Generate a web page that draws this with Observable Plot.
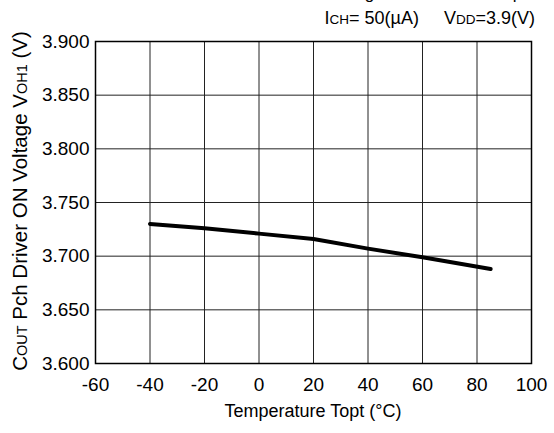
<!DOCTYPE html>
<html>
<head>
<meta charset="utf-8">
<script src="https://cdn.jsdelivr.net/npm/d3@7"></script>
<script src="https://cdn.jsdelivr.net/npm/@observablehq/plot@0.6"></script>
<style>
  html, body { margin: 0; padding: 0; background: #fff; }
  #wrap { width: 554px; font-family: "Liberation Sans", Arial, Helvetica, sans-serif; }
  #header { display: block; }
</style>
</head>
<body>
<div id="wrap">
  <svg id="header" width="554" height="32"></svg>
  <div id="chart"></div>
</div>
<script>
// Data
const temps = [-40, -20, 0, 20, 40, 60, 85];
const voh = [3.730, 3.726, 3.721, 3.716, 3.707, 3.699, 3.688];
const xTicks = [-60, -40, -20, 0, 20, 40, 60, 80, 100];
const yTicks = [3.600, 3.650, 3.700, 3.750, 3.800, 3.850, 3.900];
const titleText = "COUT Pch Driver ON Voltage vs. Ambient Temperature";

const data = temps.map((t, i) => ({t, v: voh[i]}));
const FONT = "'Liberation Sans', Arial, Helvetica, sans-serif";

const plot = Plot.plot({
  width: 554,
  height: 401,
  marginTop: 9,
  marginLeft: 95,
  marginRight: 23,
  marginBottom: 70,
  style: {fontFamily: FONT, fontSize: "19px", color: "#000", background: "#fff"},
  x: {domain: [-60, 100], label: null},
  y: {domain: [3.6, 3.9], label: null},
  marks: [
    Plot.gridX(xTicks, {stroke: "#222", strokeOpacity: 1, strokeWidth: 1}),
    Plot.gridY(yTicks, {stroke: "#222", strokeOpacity: 1, strokeWidth: 1}),
    Plot.frame({stroke: "#000", strokeWidth: 1.5}),
    Plot.axisX({ticks: xTicks, tickSize: 0, tickPadding: 14, tickFormat: d => String(d), fontSize: 19, label: null}),
    Plot.axisY({ticks: yTicks, tickSize: 0, tickPadding: 6, tickFormat: d => d.toFixed(3), fontSize: 19, label: null}),
    Plot.line(data, {x: "t", y: "v", stroke: "#000", strokeWidth: 4})
  ]
});
document.getElementById("chart").appendChild(plot);

const svg = d3.select(plot);
// y-axis label (rotated, with small-caps subscripts)
const yl = svg.append("text")
  .attr("transform", `translate(27,${(9 + 331) / 2 - 1}) rotate(-90)`)
  .attr("text-anchor", "middle")
  .style("font-family", FONT)
  .style("font-size", "20.5px")
  .attr("fill", "#000");
yl.append("tspan").text("C");
yl.append("tspan").style("font-size", "14.5px").text("OUT");
yl.append("tspan").text(" Pch Driver ON Voltage V");
yl.append("tspan").style("font-size", "14.5px").text("OH1");
yl.append("tspan").text(" (V)");

// x-axis label
svg.append("text")
  .attr("x", 313)
  .attr("y", 385)
  .attr("text-anchor", "middle")
  .style("font-family", FONT)
  .style("font-size", "18px")
  .attr("fill", "#000")
  .text("Temperature Topt (°C)");

// header: clipped title and conditions subtitle
const hdr = d3.select("#header");
hdr.append("text")
  .attr("x", 160)
  .attr("y", -1)
  .style("font-family", FONT)
  .style("font-size", "17px")
  .attr("fill", "#000")
  .text(titleText);
const sub = hdr.append("text")
  .attr("x", 535)
  .attr("y", 24)
  .attr("text-anchor", "end")
  .style("font-family", FONT)
  .style("font-size", "18px")
  .attr("fill", "#000");
sub.append("tspan").text("I");
sub.append("tspan").style("font-size", "13.5px").text("CH");
sub.append("tspan").text("= 50(\u00b5A)\u00a0\u00a0\u00a0\u00a0\u00a0V");
sub.append("tspan").style("font-size", "13.5px").text("DD");
sub.append("tspan").text("=3.9(V)");
</script>
</body>
</html>
